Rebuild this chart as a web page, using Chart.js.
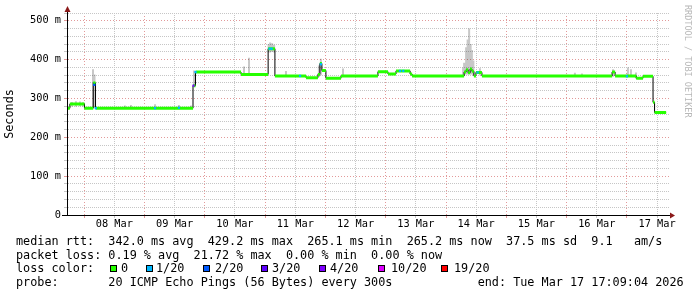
<!DOCTYPE html>
<html>
<head>
<meta charset="utf-8">
<script src="https://cdn.jsdelivr.net/npm/chart.js@4/dist/chart.umd.min.js"></script>
<style>
  html, body { margin: 0; padding: 0; background: #fff; }
  #wrap { position: relative; width: 697px; height: 297px; overflow: hidden; background: #fff; }
  #chart { position: absolute; left: 0; top: 0; }
  .leg { position: absolute; font-family: "DejaVu Sans Mono", monospace; font-size: 11.8px; line-height: 14px; white-space: pre; color: #000; }
  .box { position: absolute; width: 5px; height: 5px; border: 1px solid #000; }
  #wm { position: absolute; left: 683px; top: 5px; writing-mode: vertical-rl; font-family: "DejaVu Sans Mono", monospace; font-size: 8.5px; color: #b8b8b8; white-space: pre; }
</style>
</head>
<body>
<div id="wrap">
  <canvas id="chart" width="697" height="297"></canvas>
  <div id="wm">RRDTOOL / TOBI OETIKER</div>
  <div class="leg" style="left:16px;top:233.5px">median rtt:  342.0 ms avg  429.2 ms max  265.1 ms min  265.2 ms now  37.5 ms sd  9.1   am/s</div>
  <div class="leg" style="left:16px;top:247.5px">packet loss: 0.19 % avg  21.72 % max  0.00 % min  0.00 % now</div>
  <div class="leg" style="left:16px;top:261.3px">loss color:</div>
  <div class="leg" style="left:16px;top:275.2px">probe:       20 ICMP Echo Pings (56 Bytes) every 300s            end: Tue Mar 17 17:09:04 2026</div>
</div>
<script>
// Zeitachse in Stunden seit 07 Mar 00:00 (Ende = Tue Mar 17 17:09)
const startHour = 17.15;
const endHour = 257.15;

// x-Ticks: alle 12 h, Mitternacht = rote Linie, Mittag = Label
const gridHours = [24, 36, 48, 60, 72, 84, 96, 108, 120, 132, 144, 156, 168, 180, 192, 204, 216, 228, 240, 252];
const labelHours = [36, 60, 84, 108, 132, 156, 180, 204, 228, 252];
const dayLabels = ['08 Mar', '09 Mar', '10 Mar', '11 Mar', '12 Mar', '13 Mar', '14 Mar', '15 Mar', '16 Mar', '17 Mar'];

// y-Ticks in ms
const yGrid = [0, 20, 40, 60, 80, 100, 120, 140, 160, 180, 200, 220, 240, 260, 280, 300, 320, 340, 360, 380, 400, 420, 440, 460, 480, 500, 520];
const yLabelValues = [0, 100, 200, 300, 400, 500];
const yLabels = ['0', '100 m', '200 m', '300 m', '400 m', '500 m'];

// Median RTT (Stufen): Beginn der Stufe / Wert in ms
const medHours  = [17.2, 18.3, 24.1, 27.6, 28.5, 67.3, 68.3, 86.4, 97.2, 99.9, 112.3, 117.0, 117.8, 118.6, 120.2, 126.2, 140.9, 144.9, 148.1, 153.7, 154.5, 175.2, 176.0, 176.8, 177.6, 178.3, 179.1, 179.9, 182.3, 234.1, 235.3, 243.7, 246.4, 250.4, 251.0];
const medValues = [275,  286,  275,  340,  275,  333,  368,  362,  428,  358,  353,   362,   390,   372,   352,   358,   369,   363,   371,   363,   358,   368,   374,   366,   376,   370,   358,   367,   358,   368,   358,   352,   357,   290,   264];
const medEndHour = 255.6;

// Smoke (Streuung der Pings), nur sichtbare Ausreisser
const smokeHours = [19.1, 20.7, 22.3, 23.5, 27.5, 28.1, 40.2, 42.6, 52.2, 61.7, 66.5, 67.7, 87.6, 89.6, 97.4, 98.0, 98.8, 99.6, 104.3, 117.4, 118.2, 127.0, 174.8, 175.2, 176.0, 176.6, 177.2, 177.8, 178.3, 178.9, 181.5, 219.3, 222.1, 234.5, 240.4, 241.6, 243.6];
const smokeLow   = [279,  279,  280,  279,  276,  276,  275,  275,  275,  275,  275,  330,  360,  360,  418,  418,  420,  418,  356,   355,   360,   357,   360,   360,   362,   362,   362,   362,   362,   360,   360,   357,   357,   356,   357,   357,   352];
const smokeHigh  = [291,  293,  292,  290,  375,  362,  282,  283,  285,  283,  282,  372,  382,  405,  440,  444,  442,  438,  371,   385,   402,   377,   380,   392,   432,   452,   480,   440,   425,   398,   378,   366,   364,   375,   380,   375,   367];

// Paketverlust-Markierungen auf der Medianlinie
const lossHours  = [28.0, 28.6, 52.2, 61.7, 67.5, 68.3, 97.8, 98.6, 109.9, 118.2, 149.7, 151.0, 180.6, 240.0];
const lossValues = [335,  275,  275,  276,  333,  368,  428,  428,  358,   388,   371,   371,   367,   357];
const lossLevel  = [2,    1,    1,    1,    4,    1,    1,    1,    1,     1,     1,     1,     1,     1];

// Legende
const lossColors = ['#26ff00', '#00b8ff', '#0059ff', '#5e00ff', '#7e00ff', '#dd00ff', '#ff0000'];
const lossNames  = ['0', '1/20', '2/20', '3/20', '4/20', '10/20', '19/20'];
const lossBoxX   = [110, 146, 203, 261, 319, 378, 441];
const lossTextX  = [121, 156, 215, 272, 330, 391, 454];

const wrap = document.getElementById('wrap');
lossNames.forEach((name, i) => {
  const b = document.createElement('div');
  b.className = 'box';
  b.style.left = lossBoxX[i] + 'px';
  b.style.top = '265px';
  b.style.background = lossColors[i];
  wrap.appendChild(b);
  const t = document.createElement('div');
  t.className = 'leg';
  t.style.left = lossTextX[i] + 'px';
  t.style.top = '261.3px';
  t.textContent = name;
  wrap.appendChild(t);
});

// Datensaetze aufbauen
const blackData = medHours.map((h, i) => ({ x: h, y: medValues[i] }));
blackData.push({ x: medEndHour, y: medValues[medValues.length - 1] });

const greenData = [];
medHours.forEach((h, i) => {
  const next = i + 1 < medHours.length ? medHours[i + 1] : medEndHour;
  greenData.push({ x: h, y: medValues[i] }, { x: next, y: medValues[i] }, { x: next, y: null });
});

const smokeData = [];
smokeHours.forEach((h, i) => {
  smokeData.push({ x: h, y: smokeLow[i] }, { x: h, y: smokeHigh[i] }, { x: h, y: null });
});

const lossData = lossHours.map((h, i) => ({ x: h, y: lossValues[i] }));

const mono = '"DejaVu Sans Mono", monospace';
const majorGrid = '#e29a9a';
const minorGrid = '#c6c6c6';

const arrows = {
  id: 'arrows',
  afterDraw(chart) {
    const c = chart.ctx;
    const a = chart.chartArea;
    c.save();
    c.strokeStyle = '#000';
    c.lineWidth = 1;
    c.beginPath();
    c.moveTo(a.left + 0.5, a.bottom);
    c.lineTo(a.left + 0.5, a.top - 4);
    c.moveTo(a.left - 5, a.bottom + 0.5);
    c.lineTo(a.right + 2, a.bottom + 0.5);
    c.stroke();
    c.fillStyle = '#8b1a1a';
    c.beginPath();
    c.moveTo(a.left - 2.5, a.top - 1);
    c.lineTo(a.left + 3.5, a.top - 1);
    c.lineTo(a.left + 0.5, a.top - 7);
    c.closePath();
    c.fill();
    c.beginPath();
    c.moveTo(a.right, a.bottom - 2.5);
    c.lineTo(a.right, a.bottom + 3.5);
    c.lineTo(a.right + 5, a.bottom + 0.5);
    c.closePath();
    c.fill();
    c.restore();
  }
};

new Chart(document.getElementById('chart'), {
  type: 'line',
  data: {
    datasets: [
      { data: lossData, order: 0, showLine: false, pointStyle: 'rect', pointRadius: 1.6, pointBorderWidth: 0,
        pointBackgroundColor: lossLevel.map(l => lossColors[l]) },
      { data: greenData, order: 1, borderColor: '#26ff00', borderWidth: 3, borderCapStyle: 'butt', pointRadius: 0, spanGaps: false },
      { data: blackData, order: 2, borderColor: '#000', borderWidth: 1, stepped: true, pointRadius: 0 },
      { data: smokeData, order: 3, borderColor: 'rgba(0,0,0,0.22)', borderWidth: 2, borderCapStyle: 'butt', pointRadius: 0, spanGaps: false }
    ]
  },
  options: {
    responsive: false,
    animation: false,
    layout: { padding: { left: 0, right: 27, top: 13, bottom: 62 } },
    plugins: { legend: { display: false }, tooltip: { enabled: false } },
    scales: {
      x: {
        type: 'linear',
        min: startHour,
        max: endHour,
        afterBuildTicks: s => { s.ticks = gridHours.map(v => ({ value: v })); },
        afterFit: s => { s.height = 20; },
        ticks: {
          autoSkip: false, maxRotation: 0, padding: 0, color: '#000',
          font: { family: mono, size: 10.3 },
          callback: v => { const i = labelHours.indexOf(v); return i >= 0 ? dayLabels[i] : ''; }
        },
        grid: {
          tickLength: 3, lineWidth: 1,
          color: c => (c.tick && c.tick.value % 24 === 0) ? majorGrid : minorGrid
        },
        border: { color: '#000', width: 1, dash: c => (c.tick && c.tick.value % 24 === 0) ? [1, 2] : [1, 1] }
      },
      y: {
        min: 0,
        max: 520,
        afterBuildTicks: s => { s.ticks = yGrid.map(v => ({ value: v })); },
        afterFit: s => { s.width = 67; },
        ticks: {
          autoSkip: false, padding: 3, color: '#000',
          font: { family: mono, size: 10.3 },
          callback: v => { const i = yLabelValues.indexOf(v); return i >= 0 ? yLabels[i] : ''; }
        },
        grid: {
          tickLength: 3, lineWidth: 1,
          color: c => (c.tick && c.tick.value % 100 === 0) ? majorGrid : minorGrid
        },
        border: { color: '#000', width: 1, dash: c => (c.tick && c.tick.value % 100 === 0) ? [1, 2] : [1, 1] },
        title: { display: true, text: 'Seconds', color: '#000', font: { family: mono, size: 11.8 }, padding: { top: 3, bottom: 0 } }
      }
    }
  },
  plugins: [arrows]
});
</script>
</body>
</html>
